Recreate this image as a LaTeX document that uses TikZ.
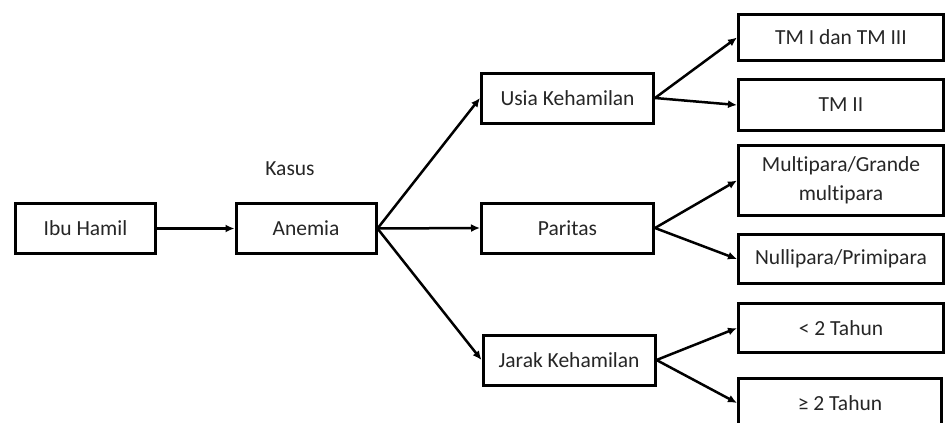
\documentclass[tikz,border=0pt]{standalone}
\usepackage{fontspec}
\setmainfont{Carlito}[Ligatures=NoCommon]
\usetikzlibrary{arrows.meta}
\begin{document}
\begin{tikzpicture}[x=1pt,y=-1pt,
  box/.style={draw=black,line width=3pt,fill=white,align=center,inner sep=2pt,
    text=black!85,font=\fontsize{21.5}{29}\selectfont,minimum height=50pt},
  wbox/.style={box,minimum width=205pt},
  mbox/.style={box,minimum width=172pt},
  sbox/.style={box,minimum width=140pt},
  conn/.style={line width=2.5pt,-{Latex[length=9pt,width=8pt]}},
  lbl/.style={text=black!85,font=\fontsize{21.5}{29}\selectfont}]
\clip (0,0) rectangle (946,423);
\fill[white] (0,0) rectangle (946,423);
\node[sbox] (ibu) at (85.5,228.5) {Ibu Hamil};
\node[sbox] (anemia) at (306,228.5) {Anemia};
\node[lbl] (kasus) at (290,169) {Kasus};
\node[mbox] (usia) at (567.5,98) {Usia Kehamilan};
\node[mbox] (paritas) at (567.5,228) {Paritas};
\node[mbox] (jarak) at (569,360) {Jarak Kehamilan};
\node[wbox,minimum height=46pt] (tm1) at (841,37.5) {TM I dan TM III};
\node[wbox,minimum height=51pt] (tm2) at (841,105) {TM II};
\node[wbox,minimum height=70pt] (multi) at (841,180.5) {Multipara/Grande\\multipara};
\node[wbox,minimum height=49pt] (nulli) at (841,259) {Nullipara/Primipara};
\node[wbox,minimum height=49pt] (kurang) at (841,328) {< 2 Tahun};
\node[wbox,minimum width=203pt,minimum height=49pt] (lebih) at (840,403) {≥ 2 Tahun};
\draw[conn] (ibu.east) -- (anemia.west);
\draw[conn] (anemia.east) -- (usia.west);
\draw[conn] (anemia.east) -- (paritas.west);
\draw[conn] (anemia.east) -- (jarak.west);
\draw[conn] (usia.east) -- (tm1.west);
\draw[conn] (usia.east) -- (tm2.west);
\draw[conn] (paritas.east) -- (multi.west);
\draw[conn] (paritas.east) -- (nulli.west);
\draw[conn] (jarak.east) -- (kurang.west);
\draw[conn] (jarak.east) -- (lebih.west);
\end{tikzpicture}
\end{document}
